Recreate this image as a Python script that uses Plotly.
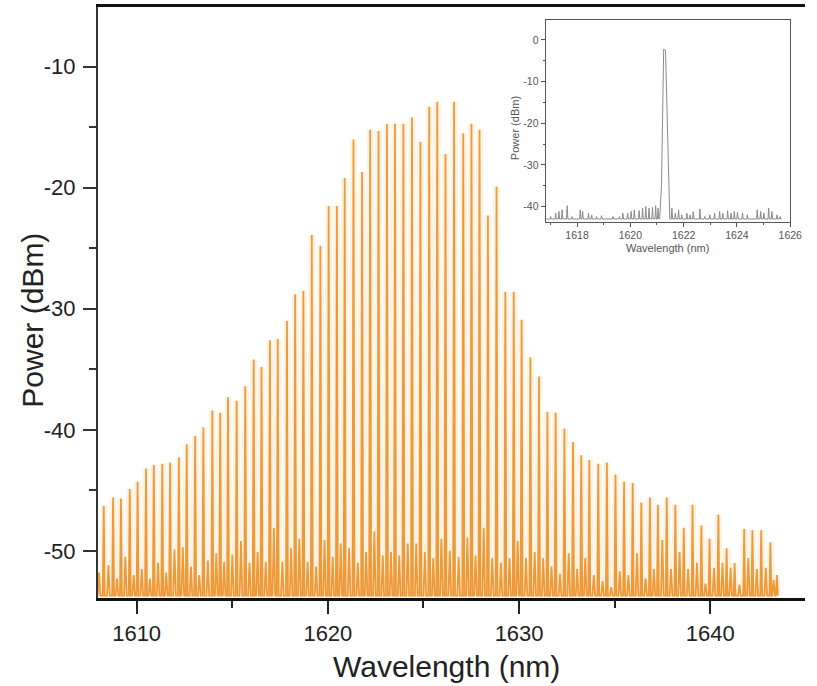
import plotly.graph_objects as go

# ---- Main spectrum: comb lines (centre wavelength, peak power) ----
line_nm = [
    1608.28, 1608.77, 1609.18, 1609.64, 1610.05, 1610.49, 1610.90, 1611.34, 1611.75, 1612.21,
    1612.62, 1613.06, 1613.49, 1613.96, 1614.37, 1614.78, 1615.23, 1615.68, 1616.12, 1616.53,
    1616.97, 1617.38, 1617.86, 1618.29, 1618.72, 1619.16, 1619.61, 1620.04, 1620.47, 1620.88,
    1621.34, 1621.79, 1622.21, 1622.65, 1623.09, 1623.51, 1623.95, 1624.40, 1624.84, 1625.30,
    1625.72, 1626.15, 1626.60, 1627.08, 1627.51, 1627.93, 1628.37, 1628.82, 1629.28, 1629.72,
    1630.13, 1630.59, 1631.04, 1631.48, 1631.91, 1632.37, 1632.82, 1633.25, 1633.67, 1634.14,
    1634.59, 1635.04, 1635.49, 1635.94, 1636.39, 1636.84, 1637.26, 1637.72, 1638.17, 1638.61,
    1639.07, 1639.53, 1639.96, 1640.42, 1640.85, 1641.27, 1641.77, 1642.20, 1642.66, 1643.14,
    1643.48,
]
line_dbm = [
    -46.3, -45.6, -45.7, -44.9, -44.3, -43.2, -42.9, -42.8, -42.7, -42.3,
    -41.2, -40.5, -39.8, -38.4, -38.6, -37.3, -37.6, -36.4, -34.2, -34.8,
    -32.6, -32.5, -31.0, -28.8, -28.5, -23.9, -24.8, -21.5, -21.5, -19.2,
    -16.0, -18.7, -15.2, -15.3, -14.7, -14.7, -14.7, -14.2, -16.2, -13.3,
    -12.9, -17.2, -12.9, -15.5, -14.7, -15.2, -22.3, -19.9, -28.6, -28.6,
    -30.9, -34.0, -35.6, -38.5, -38.6, -39.9, -41.0, -42.1, -42.5, -42.8,
    -42.7, -43.7, -44.3, -44.4, -46.0, -45.6, -46.2, -45.6, -46.2, -48.1,
    -46.2, -47.9, -49.0, -47.0, -49.8, -51.0, -48.2, -48.3, -48.3, -49.3,
    -52.0,
]
# small noise bumps sitting just before each comb line
bump_dbm = [
    -51.8, -51.2, -52.3, -50.5, -52.0, -51.5, -52.3, -51.0, -51.8, -49.9,
    -49.7, -51.3, -52.0, -50.8, -50.2, -50.9, -50.3, -49.2, -51.0, -50.1,
    -50.9, -48.1, -50.9, -49.8, -49.0, -50.9, -51.3, -49.1, -50.5, -49.4,
    -49.8, -51.0, -50.1, -48.4, -50.4, -50.1, -50.4, -49.4, -49.4, -50.1,
    -50.6, -49.0, -50.0, -50.5, -48.9, -50.4, -48.1, -50.6, -51.0, -50.6,
    -49.2, -50.6, -50.1, -50.6, -51.3, -51.9, -50.2, -51.5, -50.6, -52.0,
    -52.5, -53.0, -51.7, -52.0, -50.2, -52.3, -51.5, -49.1, -51.5, -50.1,
    -51.5, -51.0, -52.7, -51.4, -51.0, -51.4, -52.8, -50.6, -51.5, -51.4,
    -52.4,
]
floor_dbm = -53.7

main_xticks = [1610, 1620, 1630, 1640]
main_yticks = [-50, -40, -30, -20, -10]

# ---- Inset: single-wavelength spectrum ----
inset_peak_nm = [1621.10, 1621.17, 1621.25, 1621.32, 1621.48]
inset_peak_dbm = [-43.0, -34.8, -2.2, -2.5, -43.0]
inset_noise_nm = [
    1617.01, 1617.20, 1617.32, 1617.44, 1617.63, 1617.81, 1618.12, 1618.21, 1618.43, 1618.55,
    1618.73, 1618.92, 1619.10, 1619.35, 1619.59, 1619.72, 1619.90, 1620.03, 1620.15, 1620.33,
    1620.46, 1620.58, 1620.70, 1620.83, 1620.95, 1621.04, 1621.56, 1621.69, 1621.81, 1621.93,
    1622.12, 1622.24, 1622.36, 1622.61, 1622.79, 1622.98, 1623.16, 1623.35, 1623.47, 1623.65,
    1623.78, 1623.90, 1624.02, 1624.21, 1624.39, 1624.76, 1624.89, 1625.01, 1625.19, 1625.31,
    1625.50, 1625.62,
]
inset_noise_dbm = [
    -42.4, -41.6, -41.2, -40.8, -39.8, -42.4, -40.8, -41.2, -41.6, -42.0,
    -42.4, -42.2, -42.8, -42.4, -42.4, -41.6, -41.6, -41.2, -40.8, -41.0,
    -40.4, -40.0, -40.4, -40.2, -39.8, -40.4, -40.4, -41.6, -40.8, -42.0,
    -41.6, -42.0, -41.2, -40.6, -42.4, -42.0, -41.6, -41.2, -41.6, -41.0,
    -41.6, -41.2, -41.4, -41.6, -42.0, -40.8, -41.2, -41.6, -40.4, -41.2,
    -42.0, -42.4,
]
inset_base_dbm = -43.0
inset_xticks = [1618, 1620, 1622, 1624, 1626]
inset_yticks = [-40, -30, -20, -10, 0]

# build the main trace: a noise bump then a narrow spike for every comb line
spike_hw = 0.05
bump_hw = 0.07
mx, my = [line_nm[0] - 0.3], [floor_dbm]
for i, (lam, pk) in enumerate(zip(line_nm, line_dbm)):
    prev = line_nm[i - 1] if i > 0 else lam - (line_nm[1] - line_nm[0])
    mid = (prev + lam) / 2
    mx += [mid - bump_hw, mid, mid + bump_hw]
    my += [floor_dbm, bump_dbm[i], floor_dbm]
    mx += [lam - spike_hw, lam, lam + spike_hw]
    my += [floor_dbm, pk, floor_dbm]

# build the inset trace: baseline with narrow noise spikes plus the laser line
pts = [(1616.85, inset_base_dbm), (1625.68, inset_base_dbm)]
for lam, v in zip(inset_noise_nm, inset_noise_dbm):
    pts += [(lam - 0.025, inset_base_dbm), (lam, v), (lam + 0.025, inset_base_dbm)]
pts += list(zip(inset_peak_nm, inset_peak_dbm))
pts.sort(key=lambda p: p[0])
ix = [p[0] for p in pts]
iy = [p[1] for p in pts]


def hyphen_labels(vals):
    return [str(v) for v in vals]


FONT = "Arial, Liberation Sans, sans-serif"
orange = "#EE9A38"

fig = go.Figure()
# soft glow under the comb lines
fig.add_trace(go.Scatter(x=mx, y=my, mode="lines",
                         line=dict(color="rgba(246,178,90,0.16)", width=7),
                         xaxis="x", yaxis="y", showlegend=False, hoverinfo="skip"))
fig.add_trace(go.Scatter(x=mx, y=my, mode="lines",
                         line=dict(color=orange, width=1.8), xaxis="x", yaxis="y",
                         showlegend=False, hoverinfo="skip"))
fig.add_trace(go.Scatter(x=ix, y=iy, mode="lines",
                         line=dict(color="#8a8a8a", width=1), xaxis="x2", yaxis="y2",
                         showlegend=False, hoverinfo="skip"))

W, H = 817, 686
L, T, B = 97.5, 7, 88
pw, ph = W - L, H - T - B


def px_x(px):
    return (px - L) / pw


def px_y(py):
    return (H - B - py) / ph


fig.update_layout(
    width=W, height=H,
    margin=dict(l=L, r=0, t=T, b=B),
    paper_bgcolor="white", plot_bgcolor="white",
    font=dict(family=FONT, color="#222"),
    xaxis=dict(range=[1607.98, 1644.95], domain=[0, 1],
               tickmode="array", tickvals=main_xticks, ticktext=hyphen_labels(main_xticks),
               ticks="outside", ticklen=13, tickwidth=2, tickcolor="#222",
               ticklabelstandoff=1,
               minor=dict(tickvals=[1615, 1625, 1635], ticks="outside", ticklen=7,
                          tickwidth=2, tickcolor="#222"),
               showline=True, linecolor="#111", linewidth=2.5, mirror=True,
               showgrid=False, zeroline=False,
               tickfont=dict(size=22, color="#222")),
    yaxis=dict(range=[-53.9, -5.06], domain=[0, 1],
               tickmode="array", tickvals=main_yticks, ticktext=hyphen_labels(main_yticks),
               ticks="outside", ticklen=13, tickwidth=2, tickcolor="#333",
               ticklabelstandoff=3,
               minor=dict(tickvals=[-45, -35, -25, -15], ticks="outside", ticklen=7,
                          tickwidth=2, tickcolor="#333"),
               showline=True, linecolor="#333", linewidth=2.2, mirror=False,
               showgrid=False, zeroline=False,
               tickfont=dict(size=22, color="#222")),
    xaxis2=dict(range=[1616.82, 1626.0], domain=[px_x(553), px_x(802)], anchor="y2",
                tickmode="array", tickvals=inset_xticks, ticktext=hyphen_labels(inset_xticks),
                ticks="outside", ticklen=4, tickwidth=1, tickcolor="#555",
                minor=dict(tickvals=[1617, 1619, 1621, 1623, 1625], ticks="outside",
                           ticklen=2, tickwidth=1, tickcolor="#555"),
                showline=True, linecolor="#555", linewidth=1, mirror=True,
                showgrid=False, zeroline=False,
                tickfont=dict(size=10.5, color="#555")),
    yaxis2=dict(range=[-43.6, 4.8], domain=[px_y(221.5), px_y(20)], anchor="x2",
                tickmode="array", tickvals=inset_yticks, ticktext=hyphen_labels(inset_yticks),
                ticks="outside", ticklen=4, tickwidth=1, tickcolor="#555",
                minor=dict(tickvals=[-35, -25, -15, -5], ticks="outside",
                           ticklen=2, tickwidth=1, tickcolor="#555"),
                showline=True, linecolor="#555", linewidth=1, mirror=True,
                showgrid=False, zeroline=False,
                tickfont=dict(size=10.5, color="#555")),
    annotations=[
        dict(text="Wavelength (nm)", xref="paper", yref="paper",
             x=px_x(452), y=px_y(666), xanchor="center", yanchor="middle",
             showarrow=False, font=dict(size=30, color="#222", family=FONT)),
        dict(text="Power (dBm)", xref="paper", yref="paper",
             x=px_x(30), y=px_y(320), xanchor="center", yanchor="middle",
             textangle=-90, showarrow=False,
             font=dict(size=30, color="#222", family=FONT)),
        dict(text="Wavelength (nm)", xref="paper", yref="paper",
             x=px_x(677), y=px_y(248), xanchor="center", yanchor="middle",
             showarrow=False, font=dict(size=11, color="#555", family=FONT)),
        dict(text="Power (dBm)", xref="paper", yref="paper",
             x=px_x(522), y=px_y(128), xanchor="center", yanchor="middle",
             textangle=-90, showarrow=False,
             font=dict(size=11, color="#555", family=FONT)),
    ],
)

fig.write_html("out.html")
